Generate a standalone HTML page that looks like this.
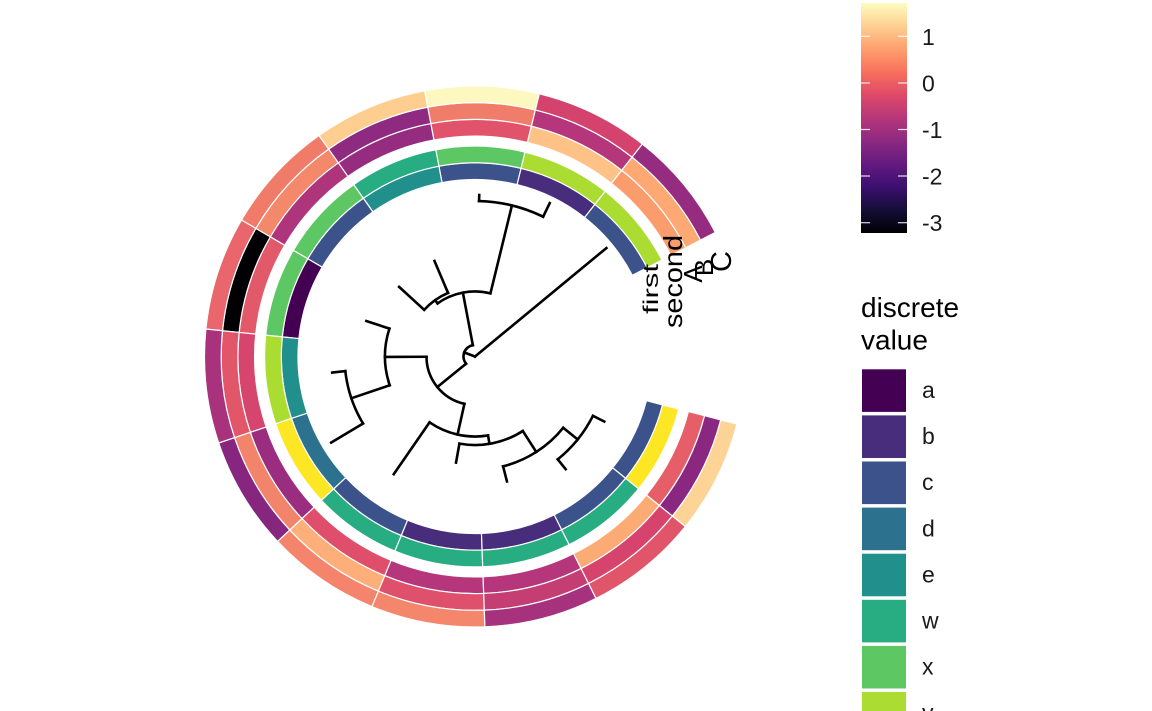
<!DOCTYPE html>
<html>
<head>
<meta charset="utf-8">
<style>
html,body{margin:0;padding:0;background:#fff;}
svg{display:block;font-family:"Liberation Sans",Arial,sans-serif;}
</style>
</head>
<body>
<svg width="1152" height="711" viewBox="0 0 1152 711" xmlns="http://www.w3.org/2000/svg">
<defs>
<path id="rf" d="M177,0 L193.7,0 A193.7,193.7 0 0 0 176.29,-80.26 L161.09,-73.35 A177,177 0 0 1 177,0 Z"/>
<path id="rs" d="M193.7,0 L210.4,0 A210.4,210.4 0 0 0 191.49,-87.19 L176.29,-80.26 A193.7,193.7 0 0 1 193.7,0 Z"/>
<path id="ra" d="M220.4,0 L237.1,0 A237.1,237.1 0 0 0 215.78,-98.25 L200.59,-91.33 A220.4,220.4 0 0 1 220.4,0 Z"/>
<path id="rb" d="M237.1,0 L253.8,0 A253.8,253.8 0 0 0 230.98,-105.17 L215.78,-98.25 A237.1,237.1 0 0 1 237.1,0 Z"/>
<path id="rc" d="M253.8,0 L270.5,0 A270.5,270.5 0 0 0 246.18,-112.09 L230.98,-105.17 A253.8,253.8 0 0 1 253.8,0 Z"/>
<linearGradient id="magma" x1="0" y1="1" x2="0" y2="0">
<stop offset="0" stop-color="#000004"/>
<stop offset="0.1" stop-color="#140E36"/>
<stop offset="0.2" stop-color="#3B0F70"/>
<stop offset="0.3" stop-color="#641A80"/>
<stop offset="0.4" stop-color="#8C2981"/>
<stop offset="0.5" stop-color="#B73779"/>
<stop offset="0.6" stop-color="#DE4968"/>
<stop offset="0.7" stop-color="#F7705C"/>
<stop offset="0.8" stop-color="#FE9F6D"/>
<stop offset="0.9" stop-color="#FECF92"/>
<stop offset="1" stop-color="#FCFDBF"/>
</linearGradient>
</defs>

<g transform="translate(475,356.5)" stroke="#ffffff" stroke-width="1.2">
<g transform="rotate(-27.3)">
<use href="#rf" fill="#3B528B"/><use href="#rs" fill="#AADC32"/><use href="#ra" fill="#FA9C6B"/><use href="#rb" fill="#FEA873"/><use href="#rc" fill="#952C80"/>
</g>
<g transform="rotate(-51.78)">
<use href="#rf" fill="#472D7B"/><use href="#rs" fill="#AADC32"/><use href="#ra" fill="#FEC287"/><use href="#rb" fill="#B5367A"/><use href="#rc" fill="#D3436E"/>
</g>
<g transform="rotate(-76.26)">
<use href="#rf" fill="#3B528B"/><use href="#rs" fill="#5DC863"/><use href="#ra" fill="#E1536A"/><use href="#rb" fill="#F07D6A"/><use href="#rc" fill="#FCF8C0"/>
</g>
<g transform="rotate(-100.74)">
<use href="#rf" fill="#21908C"/><use href="#rs" fill="#27AD81"/><use href="#ra" fill="#952C80"/><use href="#rb" fill="#8F2A81"/><use href="#rc" fill="#FECE91"/>
</g>
<g transform="rotate(-125.22)">
<use href="#rf" fill="#3B528B"/><use href="#rs" fill="#5DC863"/><use href="#ra" fill="#AE347B"/><use href="#rb" fill="#F4886B"/><use href="#rc" fill="#F07B69"/>
</g>
<g transform="rotate(-149.7)">
<use href="#rf" fill="#440154"/><use href="#rs" fill="#5DC863"/><use href="#ra" fill="#E25A6A"/><use href="#rb" fill="#000004"/><use href="#rc" fill="#E8666C"/>
</g>
<g transform="rotate(-174.18)">
<use href="#rf" fill="#21908C"/><use href="#rs" fill="#AADC32"/><use href="#ra" fill="#D6456E"/><use href="#rb" fill="#E15769"/><use href="#rc" fill="#A9327D"/>
</g>
<g transform="rotate(-198.66)">
<use href="#rf" fill="#2C728E"/><use href="#rs" fill="#FDE725"/><use href="#ra" fill="#9A2D80"/><use href="#rb" fill="#F3846C"/><use href="#rc" fill="#86267F"/>
</g>
<g transform="rotate(-223.14)">
<use href="#rf" fill="#3B528B"/><use href="#rs" fill="#27AD81"/><use href="#ra" fill="#DF4E6B"/><use href="#rb" fill="#FEAE78"/><use href="#rc" fill="#F4856C"/>
</g>
<g transform="rotate(-247.62)">
<use href="#rf" fill="#472D7B"/><use href="#rs" fill="#27AD81"/><use href="#ra" fill="#B5367A"/><use href="#rb" fill="#DE506B"/><use href="#rc" fill="#F4866C"/>
</g>
<g transform="rotate(-272.1)">
<use href="#rf" fill="#472D7B"/><use href="#rs" fill="#27AD81"/><use href="#ra" fill="#B5367A"/><use href="#rb" fill="#C53E73"/><use href="#rc" fill="#A6317D"/>
</g>
<g transform="rotate(-296.58)">
<use href="#rf" fill="#3B528B"/><use href="#rs" fill="#27AD81"/><use href="#ra" fill="#FDAB75"/><use href="#rb" fill="#D6446E"/><use href="#rc" fill="#E05569"/>
</g>
<g transform="rotate(-321.06)">
<use href="#rf" fill="#3B528B"/><use href="#rs" fill="#FDE725"/><use href="#ra" fill="#E65F68"/><use href="#rb" fill="#8A2881"/><use href="#rc" fill="#FED396"/>
</g>
</g>

<!-- tree -->
<g transform="translate(475,356.5)" stroke="#000" stroke-width="2.6" fill="none" stroke-linecap="square">
<line x1="0" y1="0" x2="170.4" y2="0" transform="rotate(-39.54)"/>
<line x1="0" y1="0" x2="11.5" y2="0" transform="rotate(-159.5)"/>
<line x1="11.5" y1="0" x2="65" y2="0" transform="rotate(-100.74)"/>
<line x1="11.5" y1="0" x2="48.5" y2="0" transform="rotate(-219)"/>
<line x1="65" y1="0" x2="155.5" y2="0" transform="rotate(-76.26)"/>
<line x1="65" y1="0" x2="69" y2="0" transform="rotate(-125.22)"/>
<line x1="155.5" y1="0" x2="170.6" y2="0" transform="rotate(-64.02)"/>
<line x1="155.5" y1="0" x2="161.6" y2="0" transform="rotate(-88.5)"/>
<line x1="69" y1="0" x2="103.8" y2="0" transform="rotate(-112.98)"/>
<line x1="69" y1="0" x2="103" y2="0" transform="rotate(-137.46)"/>
<line x1="48.5" y1="0" x2="90" y2="0" transform="rotate(-180.3)"/>
<line x1="48.5" y1="0" x2="80" y2="0" transform="rotate(-257.4)"/>
<line x1="90" y1="0" x2="114.3" y2="0" transform="rotate(-161.94)"/>
<line x1="90" y1="0" x2="130.5" y2="0" transform="rotate(-198.66)"/>
<line x1="130.5" y1="0" x2="143.7" y2="0" transform="rotate(-186.42)"/>
<line x1="130.5" y1="0" x2="167.6" y2="0" transform="rotate(-210.9)"/>
<line x1="80" y1="0" x2="143" y2="0" transform="rotate(-235.38)"/>
<line x1="80" y1="0" x2="88.5" y2="0" transform="rotate(-279.4)"/>
<line x1="88.5" y1="0" x2="107.8" y2="0" transform="rotate(-259.86)"/>
<line x1="88.5" y1="0" x2="113.4" y2="0" transform="rotate(-302.7)"/>
<line x1="113.4" y1="0" x2="129" y2="0" transform="rotate(-284.34)"/>
<line x1="113.4" y1="0" x2="132" y2="0" transform="rotate(-321.06)"/>
<line x1="132" y1="0" x2="144.6" y2="0" transform="rotate(-308.82)"/>
<line x1="132" y1="0" x2="144.7" y2="0" transform="rotate(-333.3)"/>
<path d="M-2.14,-11.30 A11.5,11.5 0 0 0 -8.94,7.24"/>
<path d="M15.44,-63.14 A65,65 0 0 0 -37.49,-53.10"/>
<path d="M68.12,-139.78 A155.5,155.5 0 0 0 4.07,-155.45"/>
<path d="M-26.94,-63.53 A69,69 0 0 0 -50.84,-46.65"/>
<path d="M-48.5,0.25 A48.5,48.5 0 0 0 -10.58,47.33"/>
<path d="M-85.56,-27.90 A90,90 0 0 0 -85.27,28.80"/>
<path d="M-129.68,14.59 A130.5,130.5 0 0 0 -111.98,67.01"/>
<path d="M-45.46,65.84 A80,80 0 0 0 13.06,78.93"/>
<path d="M-15.58,87.12 A88.5,88.5 0 0 0 47.81,74.47"/>
<path d="M28.09,109.86 A113.4,113.4 0 0 0 88.21,71.26"/>
<path d="M82.75,102.84 A132,132 0 0 0 117.93,59.31"/>
</g>

<!-- column labels -->
<g fill="#000">
<text x="-25" y="0" font-size="21" textLength="50" lengthAdjust="spacingAndGlyphs" transform="translate(658,289) rotate(-90)">first</text>
<text x="-46.5" y="0" font-size="26" textLength="93" lengthAdjust="spacingAndGlyphs" transform="translate(682,281.5) rotate(-90)">second</text>
<text x="0" y="0" font-size="26" text-anchor="middle" transform="translate(702,274) rotate(-90)">A</text>
<text x="0" y="0" font-size="26" text-anchor="middle" transform="translate(713,267.5) rotate(-90)">B</text>
<text x="0" y="0" font-size="29" text-anchor="middle" transform="translate(731,261.5) rotate(-90)">C</text>
</g>

<!-- continuous colorbar legend -->
<rect x="861" y="3" width="46" height="230" fill="url(#magma)"/>
<g stroke="#ffffff" stroke-opacity="0.85" stroke-width="1.2">
<line x1="861" y1="36.3" x2="870" y2="36.3"/><line x1="898" y1="36.3" x2="907" y2="36.3"/>
<line x1="861" y1="83" x2="870" y2="83"/><line x1="898" y1="83" x2="907" y2="83"/>
<line x1="861" y1="129.5" x2="870" y2="129.5"/><line x1="898" y1="129.5" x2="907" y2="129.5"/>
<line x1="861" y1="176" x2="870" y2="176"/><line x1="898" y1="176" x2="907" y2="176"/>
<line x1="861" y1="222.7" x2="870" y2="222.7"/><line x1="898" y1="222.7" x2="907" y2="222.7"/>
</g>
<g font-size="23" fill="#1a1a1a">
<text x="922" y="44.8">1</text>
<text x="922" y="91.4">0</text>
<text x="922" y="137.9">-1</text>
<text x="922" y="184.4">-2</text>
<text x="922" y="231.1">-3</text>
</g>

<!-- discrete legend -->
<g font-size="28" fill="#000">
<text x="861" y="317">discrete</text>
<text x="861" y="349.5">value</text>
</g>
<g>
<rect x="862" y="369.3" width="44" height="42.6" fill="#440154"/>
<rect x="862" y="415.4" width="44" height="42.6" fill="#472D7B"/>
<rect x="862" y="461.5" width="44" height="42.6" fill="#3B528B"/>
<rect x="862" y="507.6" width="44" height="42.6" fill="#2C728E"/>
<rect x="862" y="553.7" width="44" height="42.6" fill="#21908C"/>
<rect x="862" y="599.8" width="44" height="42.6" fill="#27AD81"/>
<rect x="862" y="645.9" width="44" height="42.6" fill="#5DC863"/>
<rect x="862" y="692" width="44" height="42.6" fill="#AADC32"/>
</g>
<g font-size="23" fill="#1a1a1a">
<text x="922" y="398">a</text>
<text x="922" y="444.1">b</text>
<text x="922" y="490.2">c</text>
<text x="922" y="536.3">d</text>
<text x="922" y="582.4">e</text>
<text x="922" y="628.5">w</text>
<text x="922" y="674.6">x</text>
<text x="922" y="720.7">y</text>
</g>
</svg>
</body>
</html>
